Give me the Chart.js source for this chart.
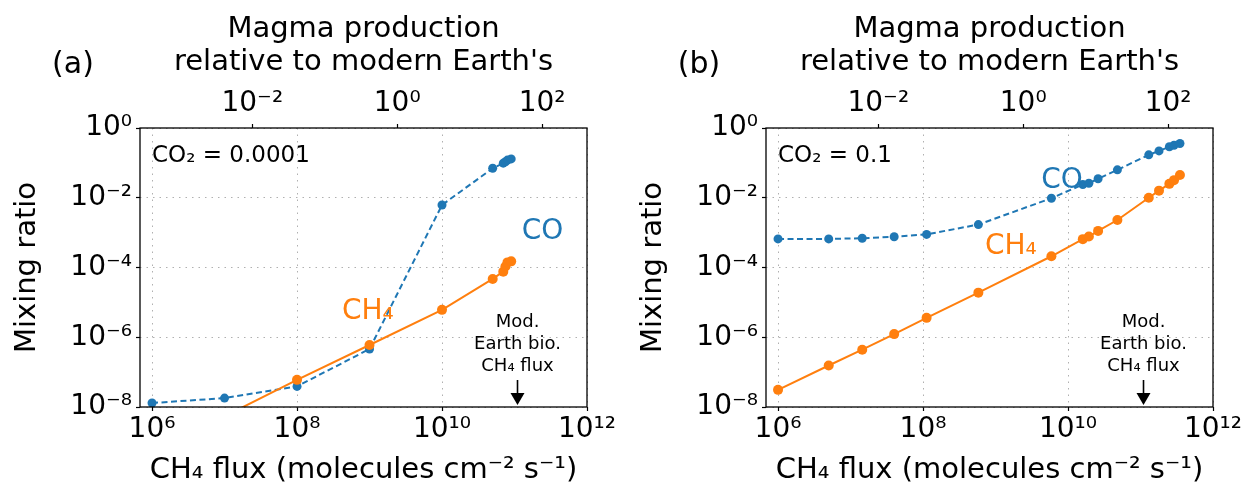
<!DOCTYPE html>
<html>
<head>
<meta charset="utf-8">
<script src="https://cdn.jsdelivr.net/npm/chart.js@4"></script>
<style>
  body { margin: 0; background: #fff; }
  .panel { position: absolute; top: 0; height: 494px; }
  #pa { left: 0; width: 623px; }
  #pb { left: 626px; width: 620px; }
</style>
</head>
<body>
<div class="panel" id="pa"><canvas id="chartA" width="623" height="494"></canvas></div>
<div class="panel" id="pb"><canvas id="chartB" width="620" height="494"></canvas></div>
<script>
// panel (a): CO2 = 0.0001
const fluxA = [1e6, 1e7, 1e8, 1e9, 1e10, 5e10, 7e10, 7.5e10, 8e10, 9e10];
const coA   = [1.3e-8, 1.8e-8, 3.9e-8, 4.6e-7, 6.2e-3, 0.07, 0.098, 0.108, 0.12, 0.13];
const ch4A  = [5e-10, 5.4e-9, 6e-8, 6e-7, 6.1e-6, 4.7e-5, 7.6e-5, 1.07e-4, 1.4e-4, 1.5e-4];

// panel (b): CO2 = 0.1
const fluxB = [1e6, 5e6, 1.45e7, 4e7, 1.12e8, 5.8e8, 5.9e9, 1.6e10, 1.94e10, 2.6e10, 4.8e10, 1.3e11, 1.8e11, 2.5e11, 2.9e11, 3.5e11];
const coB   = [6.6e-4, 6.6e-4, 6.9e-4, 7.6e-4, 8.9e-4, 1.7e-3, 9.7e-3, 0.024, 0.026, 0.035, 0.063, 0.17, 0.22, 0.29, 0.32, 0.36];
const ch4B  = [3.1e-8, 1.55e-7, 4.4e-7, 1.23e-6, 3.6e-6, 1.9e-5, 2.1e-4, 6.5e-4, 7.7e-4, 1.12e-3, 2.3e-3, 0.01, 0.016, 0.025, 0.032, 0.045];

const fluxTicks  = [1e6, 1e8, 1e10, 1e12];
const ratioTicks = [1e-8, 1e-6, 1e-4, 1e-2, 1];
const magmaTicks = [1e-2, 1, 1e2];
const bioFlux = 1.1e11;   // modern Earth biological CH4 flux

const FONT = 'DejaVu Sans';
const blue = '#1f77b4', orange = '#ff7f0e';

const supMap = {'-': '⁻', '0': '⁰', '1': '¹', '2': '²', '3': '³', '4': '⁴',
                '5': '⁵', '6': '⁶', '7': '⁷', '8': '⁸', '9': '⁹'};
function pow10(v) {
  const e = Math.round(Math.log10(v));
  return '10' + String(e).split('').map(c => supMap[c]).join('');
}

const annot = {
  id: 'annot',
  afterDraw(chart, args, o) {
    const {ctx, chartArea: a, scales: {x, y}} = chart;
    ctx.save();
    ctx.strokeStyle = '#000';
    ctx.lineWidth = 1.3;
    ctx.strokeRect(a.left, a.top, a.right - a.left, a.bottom - a.top);

    ctx.textBaseline = 'middle';
    ctx.fillStyle = '#000';
    ctx.font = `30px "${FONT}"`;
    ctx.textAlign = 'center';
    ctx.fillText(o.letter, a.left - 67, a.top - 63);

    ctx.font = `23px "${FONT}"`;
    ctx.textAlign = 'left';
    ctx.fillText(o.co2, x.getPixelForValue(1e6), a.top + 28);

    ctx.font = `28px "${FONT}"`;
    ctx.fillStyle = blue;
    ctx.fillText('CO', x.getPixelForValue(o.coAt[0]), y.getPixelForValue(o.coAt[1]));
    ctx.fillStyle = orange;
    ctx.fillText('CH₄', x.getPixelForValue(o.ch4At[0]), y.getPixelForValue(o.ch4At[1]));

    // modern Earth bio flux marker
    const bx = x.getPixelForValue(bioFlux);
    ctx.fillStyle = '#000';
    ctx.textAlign = 'center';
    ctx.font = `18px "${FONT}"`;
    ['Mod.', 'Earth bio.', 'CH₄ flux'].forEach((t, i) => ctx.fillText(t, bx, a.top + 194 + i * 22));
    ctx.strokeStyle = '#000';
    ctx.lineWidth = 1.6;
    ctx.beginPath();
    ctx.moveTo(bx, a.bottom - 27);
    ctx.lineTo(bx, a.bottom - 12);
    ctx.stroke();
    ctx.beginPath();
    ctx.moveTo(bx - 7, a.bottom - 14);
    ctx.lineTo(bx + 7, a.bottom - 14);
    ctx.lineTo(bx, a.bottom - 2);
    ctx.closePath();
    ctx.fill();
    ctx.restore();
  }
};

const tickFont = {size: 28, family: FONT};
const titleFont = {size: 29, family: FONT};

function makePanel(id, flux, co, ch4, rightPad, o) {
  const pts = arr => flux.map((f, i) => ({x: f, y: arr[i]}));
  return new Chart(document.getElementById(id), {
    type: 'line',
    plugins: [annot],
    data: {
      datasets: [
        {data: pts(ch4), borderColor: orange, backgroundColor: orange, borderWidth: 2,
         pointRadius: 5, pointBorderWidth: 0, pointBackgroundColor: orange},
        {data: pts(co), borderColor: blue, backgroundColor: blue, borderWidth: 2, borderDash: [6, 3.5],
         pointRadius: 4.5, pointBorderWidth: 0, pointBackgroundColor: blue}
      ]
    },
    options: {
      responsive: false,
      animation: false,
      layout: {padding: {left: 0, right: rightPad, top: 0, bottom: 0}},
      plugins: {legend: {display: false}, tooltip: {enabled: false}, annot: o},
      scales: {
        x: {
          type: 'logarithmic', position: 'bottom', min: Math.pow(10, 5.834), max: 1e12,
          afterBuildTicks: s => { s.ticks = fluxTicks.map(v => ({value: v})); },
          afterFit: s => { s.height = 87; },
          ticks: {callback: v => pow10(v), color: '#000', font: tickFont, maxRotation: 0, autoSkip: false, padding: 2},
          grid: {color: '#b0b0b0', lineWidth: 1, tickLength: 4, tickColor: '#000', tickWidth: 1.2},
          border: {display: false, dash: [1.5, 5]},
          title: {display: true, text: 'CH₄ flux (molecules cm⁻² s⁻¹)', color: '#000',
                  font: titleFont, padding: {bottom: 6}}
        },
        x2: {
          type: 'logarithmic', position: 'top', min: Math.pow(10, -3.55), max: Math.pow(10, 2.62),
          afterBuildTicks: s => { s.ticks = magmaTicks.map(v => ({value: v})); },
          afterFit: s => { s.height = 128; },
          ticks: {callback: v => pow10(v), color: '#000', font: tickFont, maxRotation: 0, autoSkip: false, padding: 3},
          grid: {drawOnChartArea: false, tickLength: 4, tickColor: '#000', tickWidth: 1.2},
          border: {display: false},
          title: {display: true, text: ['Magma production', "relative to modern Earth's"], color: '#000',
                  font: {size: 29, family: FONT, lineHeight: 1.14}, padding: {top: 13}}
        },
        y: {
          type: 'logarithmic', min: 1e-8, max: 1,
          afterBuildTicks: s => { s.ticks = ratioTicks.map(v => ({value: v})); },
          afterFit: s => { s.width = 140; },
          ticks: {callback: v => pow10(v), color: '#000', font: tickFont, autoSkip: false, padding: 4},
          grid: {color: '#b0b0b0', lineWidth: 1, tickLength: 4, tickColor: '#000', tickWidth: 1.2},
          border: {display: false, dash: [1.5, 5]},
          title: {display: true, text: 'Mixing ratio', color: '#000',
                  font: titleFont, padding: {top: 10}}
        }
      }
    }
  });
}

makePanel('chartA', fluxA, coA, ch4A, 36, {
  letter: '(a)', co2: 'CO₂ = 0.0001',
  coAt: [Math.pow(10, 11.1), Math.pow(10, -2.97)],
  ch4At: [Math.pow(10, 8.62), Math.pow(10, -5.26)]
});
makePanel('chartB', fluxB, coB, ch4B, 33, {
  letter: '(b)', co2: 'CO₂ = 0.1',
  coAt: [Math.pow(10, 9.63), Math.pow(10, -1.52)],
  ch4At: [Math.pow(10, 8.855), Math.pow(10, -3.40)]
});
</script>
</body>
</html>
